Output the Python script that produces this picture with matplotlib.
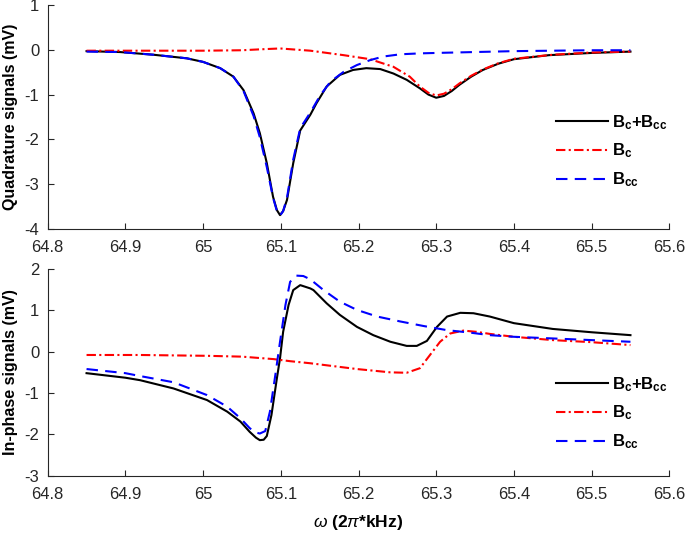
import matplotlib
matplotlib.use("Agg")
import matplotlib.pyplot as plt

plt.rcParams['font.family'] = ['Liberation Sans', 'DejaVu Sans']
plt.rcParams['mathtext.fontset'] = 'custom'
plt.rcParams['mathtext.rm'] = 'Liberation Sans'
plt.rcParams['mathtext.bf'] = 'Liberation Sans:bold'
plt.rcParams['mathtext.it'] = 'Liberation Sans:italic'

# ---- Quadrature (top) ----
q_sum_x = [64.85, 64.893, 64.936, 64.979, 65.0, 65.022, 65.039, 65.052, 65.065, 65.073,
           65.082, 65.09, 65.095, 65.099, 65.103, 65.108, 65.116, 65.125, 65.138, 65.146,
           65.159, 65.176, 65.193, 65.21, 65.228, 65.245, 65.262, 65.279, 65.29, 65.3,
           65.31, 65.32, 65.33, 65.345, 65.36, 65.38, 65.4, 65.445, 65.5, 65.55]
q_sum_y = [-0.03, -0.05, -0.11, -0.19, -0.27, -0.41, -0.6, -0.9, -1.42, -1.86,
           -2.53, -3.28, -3.58, -3.69, -3.6, -3.35, -2.53, -1.8, -1.45, -1.19,
           -0.82, -0.56, -0.45, -0.41, -0.43, -0.53, -0.67, -0.86, -1.0, -1.07,
           -1.03, -0.92, -0.78, -0.6, -0.45, -0.31, -0.21, -0.12, -0.07, -0.04]

q_bcc_x = [64.85, 64.893, 64.936, 64.979, 65.0, 65.022, 65.039, 65.052, 65.065, 65.073,
           65.082, 65.09, 65.095, 65.099, 65.103, 65.108, 65.116, 65.125, 65.138, 65.151,
           65.164, 65.181, 65.198, 65.215, 65.232, 65.254, 65.279, 65.3, 65.35, 65.4,
           65.45, 65.5, 65.55]
q_bcc_y = [-0.04, -0.05, -0.11, -0.19, -0.27, -0.41, -0.6, -0.92, -1.48, -1.95,
           -2.62, -3.3, -3.6, -3.7, -3.6, -3.3, -2.45, -1.75, -1.4, -1.01,
           -0.71, -0.49, -0.34, -0.23, -0.15, -0.1, -0.08, -0.07, -0.05, -0.03,
           -0.02, -0.01, -0.01]

q_bc_x = [64.85, 64.95, 65.0, 65.05, 65.073, 65.099, 65.138, 65.181, 65.215, 65.245,
          65.266, 65.279, 65.29, 65.3, 65.31, 65.32, 65.33, 65.345, 65.36, 65.38,
          65.4, 65.45, 65.5, 65.55]
q_bc_y = [-0.02, -0.02, -0.02, -0.01, 0.01, 0.03, -0.02, -0.12, -0.21, -0.38,
          -0.6, -0.82, -0.96, -1.02, -0.98, -0.88, -0.75, -0.58, -0.44, -0.3,
          -0.2, -0.11, -0.06, -0.04]

# ---- In-phase (bottom) ----
i_sum_x = [64.85, 64.9, 64.919, 64.962, 65.005, 65.031, 65.048, 65.06, 65.068, 65.073,
           65.078, 65.082, 65.088, 65.095, 65.099, 65.103, 65.11, 65.116, 65.125, 65.138,
           65.142, 65.159, 65.176, 65.198, 65.219, 65.241, 65.262, 65.275, 65.288, 65.301,
           65.314, 65.331, 65.348, 65.369, 65.4, 65.45, 65.5, 65.55]
i_sum_y = [-0.52, -0.63, -0.69, -0.89, -1.17, -1.45, -1.69, -1.94, -2.08, -2.14,
           -2.13, -2.04, -1.53, -0.64, -0.16, 0.48, 1.13, 1.49, 1.61, 1.53,
           1.49, 1.17, 0.89, 0.6, 0.4, 0.24, 0.14, 0.14, 0.26, 0.6,
           0.85, 0.94, 0.93, 0.85, 0.69, 0.55, 0.47, 0.4]

i_bcc_x = [64.85, 64.9, 64.919, 64.962, 65.005, 65.031, 65.048, 65.06, 65.067, 65.073,
           65.08, 65.086, 65.093, 65.099, 65.106, 65.112, 65.12, 65.129, 65.138, 65.155,
           65.176, 65.198, 65.224, 65.254, 65.284, 65.314, 65.344, 65.369, 65.4, 65.45,
           65.5, 65.55]
i_bcc_y = [-0.42, -0.52, -0.59, -0.74, -1.05, -1.33, -1.61, -1.85, -1.95, -1.98,
           -1.92, -1.45, -0.56, 0.24, 1.13, 1.69, 1.84, 1.83, 1.75, 1.49,
           1.21, 1.01, 0.85, 0.73, 0.62, 0.52, 0.46, 0.4, 0.36, 0.32,
           0.28, 0.24]

i_bc_x = [64.85, 64.919, 65.005, 65.05, 65.091, 65.112, 65.138, 65.155, 65.198, 65.241,
          65.262, 65.279, 65.292, 65.305, 65.318, 65.335, 65.352, 65.369, 65.4, 65.45,
          65.5, 65.55]
i_bc_y = [-0.08, -0.08, -0.1, -0.12, -0.18, -0.23, -0.28, -0.32, -0.42, -0.5,
          -0.51, -0.4, -0.08, 0.24, 0.44, 0.51, 0.48, 0.43, 0.36, 0.28,
          0.23, 0.16]

labels = [r'$\mathbf{B_c{+}B_{cc}}$', r'$\mathbf{B_c}$', r'$\mathbf{B_{cc}}$']
xticks = [64.8, 64.9, 65.0, 65.1, 65.2, 65.3, 65.4, 65.5, 65.6]
xticklabels = ['64.8', '64.9', '65', '65.1', '65.2', '65.3', '65.4', '65.5', '65.6']

W, H = 685, 533
fig = plt.figure(figsize=(6.85, 5.33), dpi=100)
L, R = 47.7, 669.3
ax1 = fig.add_axes([L / W, 1 - 229 / H, (R - L) / W, 224 / H])
ax2 = fig.add_axes([L / W, 1 - 475.7 / H, (R - L) / W, 206.7 / H])

def style(ax, ylim, yticks, ylabel):
    ax.set_xlim(64.8, 65.6)
    ax.set_ylim(*ylim)
    ax.set_xticks(xticks)
    ax.set_xticklabels(xticklabels)
    ax.set_yticks(yticks)
    ax.set_yticklabels([str(t) for t in yticks])
    for s in ['top', 'right']:
        ax.spines[s].set_visible(False)
    for s in ['left', 'bottom']:
        ax.spines[s].set_color('#262626')
        ax.spines[s].set_linewidth(0.8)
    ax.tick_params(direction='in', length=4.3, width=0.8, labelsize=12, colors='#262626')
    ax.tick_params(axis='x', pad=8)
    ax.tick_params(axis='y', pad=6)
    ax.set_ylabel(ylabel, fontsize=11.5, fontweight='bold')
    ax.yaxis.set_label_coords(-0.047, 0.5)

lw = 1.5
red_ls = (0, (4.5, 1.6, 1.0, 1.6))
blue_ls = (0, (5.5, 3.5))
ax1.plot(q_sum_x, q_sum_y, color='black', lw=lw, label=labels[0])
ax1.plot(q_bc_x, q_bc_y, color='red', lw=lw, ls=red_ls, label=labels[1])
ax1.plot(q_bcc_x, q_bcc_y, color='blue', lw=lw, ls=blue_ls, label=labels[2])
style(ax1, (-4, 1), [-4, -3, -2, -1, 0, 1], 'Quadrature signals (mV)')

ax2.plot(i_sum_x, i_sum_y, color='black', lw=lw, label=labels[0])
ax2.plot(i_bc_x, i_bc_y, color='red', lw=lw, ls=red_ls, label=labels[1])
ax2.plot(i_bcc_x, i_bcc_y, color='blue', lw=lw, ls=blue_ls, label=labels[2])
style(ax2, (-3, 2), [-3, -2, -1, 0, 1, 2], 'In-phase signals (mV)')
ax2.set_xlabel(r'$\omega$ (2$\pi$*kHz)', fontsize=12.5, fontweight='bold')
ax2.xaxis.set_label_coords(0.5, -0.18)

for ax, yc in [(ax1, 151), (ax2, 413)]:
    ax.legend(loc='center left', bbox_to_anchor=(556 / W, 1 - yc / H),
              bbox_transform=fig.transFigure, frameon=False, fontsize=12,
              handlelength=3.1, handletextpad=0.25, labelspacing=0.6,
              borderpad=0, borderaxespad=0)

fig.savefig('out.png', dpi=100)
